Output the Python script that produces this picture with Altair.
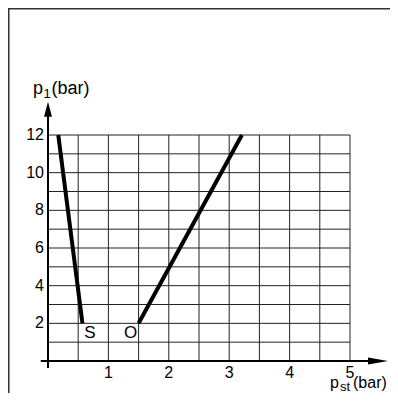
import altair as alt
import pandas as pd

# ---- data ----
s_x = [0.17, 0.57]
s_y = [12, 2]
o_x = [1.5, 3.21]
o_y = [2, 12]
curve_names = ["S", "O"]
curve_label_x = [0.695, 1.366]
curve_label_y = [1.5, 1.5]
x_ticks = [1, 2, 3, 4, 5]
y_ticks = [2, 4, 6, 8, 10, 12]
x_grid = [0.5, 1, 1.5, 2, 2.5, 3, 3.5, 4, 4.5, 5]
y_grid = [1, 2, 3, 4, 5, 6, 7, 8, 9, 10, 11, 12]

FONT = "Liberation Sans"
W, H = 302, 226
xs = alt.Scale(domain=[0, 5], nice=False, zero=False)
ys = alt.Scale(domain=[0, 12], nice=False, zero=False)


def X(f):
    return alt.X(f, type="quantitative", scale=xs, axis=None)


def Y(f):
    return alt.Y(f, type="quantitative", scale=ys, axis=None)


# grid
vgrid_df = pd.DataFrame({"x": x_grid, "y0": 0, "y1": 12})
hgrid_df = pd.DataFrame({"y": y_grid, "x0": 0, "x1": 5})
vgrid = alt.Chart(vgrid_df).mark_rule(color="#222", strokeWidth=1).encode(
    x=X("x"), y=Y("y0"), y2=alt.Y2("y1"))
hgrid = alt.Chart(hgrid_df).mark_rule(color="#222", strokeWidth=1).encode(
    y=Y("y"), x=X("x0"), x2=alt.X2("x1"))

# axes lines
yaxis_df = pd.DataFrame({"x": [0], "y0": [-0.37], "y1": [13.0]})
xaxis_df = pd.DataFrame({"y": [0], "x0": [-0.12], "x1": [5.3]})
yaxis = alt.Chart(yaxis_df).mark_rule(color="black", strokeWidth=2).encode(
    x=X("x"), y=Y("y0"), y2=alt.Y2("y1"))
xaxis = alt.Chart(xaxis_df).mark_rule(color="black", strokeWidth=2).encode(
    y=Y("y"), x=X("x0"), x2=alt.X2("x1"))

# arrow heads
yarrow = alt.Chart(pd.DataFrame({"x": [0], "y": [13.37]})).mark_point(
    shape="M0,-1L-0.53,1L0.53,1Z", size=225, filled=True, color="black",
    opacity=1, strokeWidth=0).encode(x=X("x"), y=Y("y"))
xarrow = alt.Chart(pd.DataFrame({"x": [5.464], "y": [0]})).mark_point(
    shape="M1,0L-1,-0.35L-1,0.35Z", size=400, filled=True, color="black",
    opacity=1, strokeWidth=0).encode(x=X("x"), y=Y("y"))

# curves
curves_df = pd.DataFrame({
    "series": ["S"] * len(s_x) + ["O"] * len(o_x),
    "x": s_x + o_x,
    "y": s_y + o_y,
})
curves = alt.Chart(curves_df).mark_line(color="black", strokeWidth=4, strokeCap="butt").encode(
    x=X("x"), y=Y("y"), detail="series:N")

labels_df = pd.DataFrame({"t": curve_names, "x": curve_label_x, "y": curve_label_y})
curve_labels = alt.Chart(labels_df).mark_text(
    font=FONT, fontSize=17, color="black", baseline="middle", align="center").encode(
    x=X("x"), y=Y("y"), text="t:N")

# tick labels
xt_df = pd.DataFrame({"x": x_ticks, "y": 0, "t": [str(v) for v in x_ticks]})
yt_df = pd.DataFrame({"y": y_ticks, "x": 0, "t": [str(v) for v in y_ticks]})
xtl = alt.Chart(xt_df).mark_text(font=FONT, fontSize=16, color="black",
                                 align="center", baseline="alphabetic", dy=17).encode(
    x=X("x"), y=Y("y"), text="t:N")
ytl = alt.Chart(yt_df).mark_text(font=FONT, fontSize=16, color="black",
                                 align="right", baseline="middle", dx=-4).encode(
    x=X("x"), y=Y("y"), text="t:N")

# axis titles (with subscripts)
title_df = pd.DataFrame({
    "t": ["p", "1", "(bar)", "p", "st", "(bar)"],
    "x": [-0.248, -0.075, 0.058, 4.669, 4.834, 5.05],
    "y": [14.18, 13.97, 14.18, -1.434, -1.593, -1.434],
    "fs": [18, 13, 18, 16, 13, 16],
})
titles = alt.Chart(title_df).mark_text(font=FONT, color="black", align="left",
                                       baseline="alphabetic").encode(
    x=X("x"), y=Y("y"), text="t:N",
    size=alt.Size("fs:Q", scale=None, legend=None))

# frame (left and top border)
frame_left = alt.Chart(pd.DataFrame({"a": [0]})).mark_rule(color="#333", strokeWidth=2).encode(
    x=alt.value(-39.5), y=alt.value(-127), y2=alt.value(280))
frame_top = alt.Chart(pd.DataFrame({"a": [0]})).mark_rule(color="#333", strokeWidth=2).encode(
    y=alt.value(-126.5), x=alt.value(-40), x2=alt.value(342))

chart = alt.layer(
    frame_left, frame_top, vgrid, hgrid, xaxis, yaxis, xarrow, yarrow,
    curves, curve_labels, xtl, ytl, titles
).properties(
    width=W, height=H,
    padding={"left": 40, "top": 127, "right": 40, "bottom": 32},
    autosize=alt.AutoSizeParams(type="none"),
).configure_view(stroke=None)

chart.save("out.html", embed_options={"renderer": "svg", "actions": False})
